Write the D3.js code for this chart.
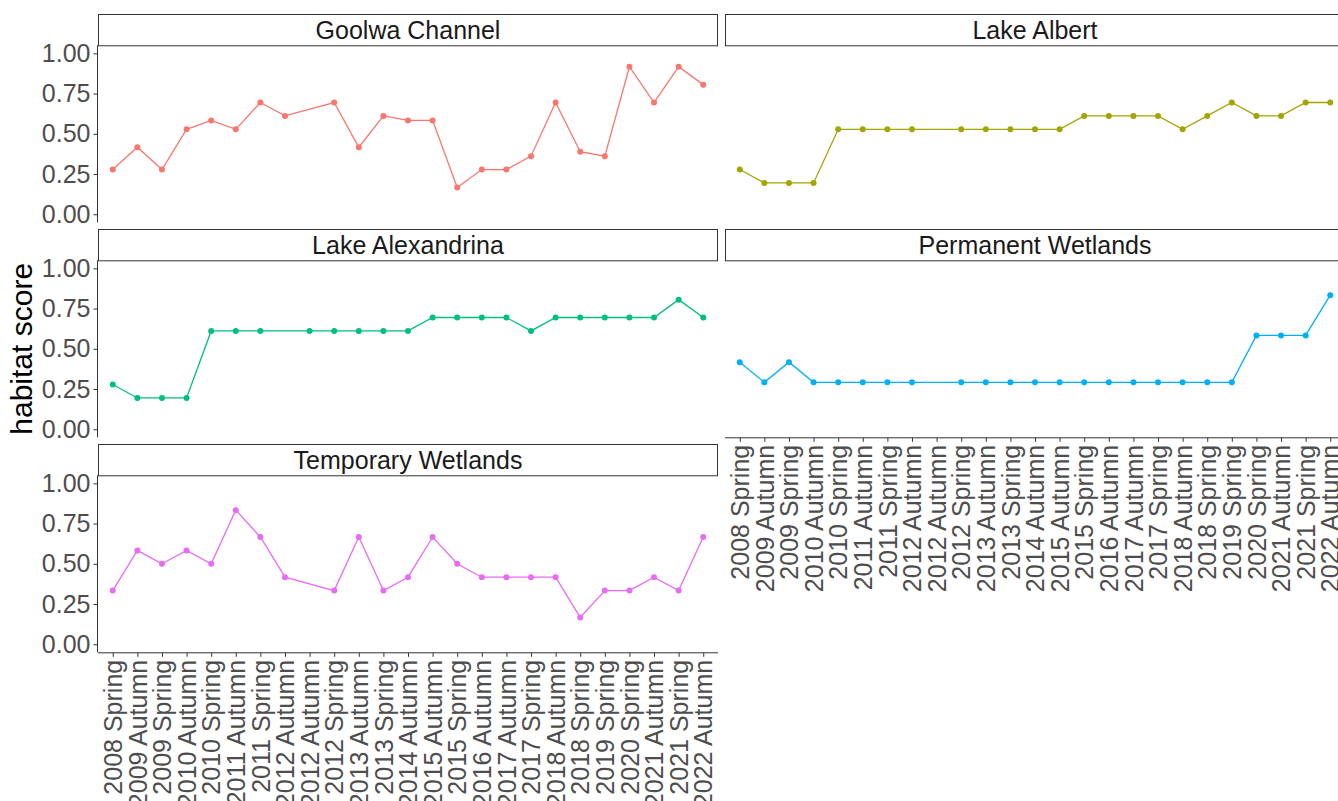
<!DOCTYPE html>
<html>
<head>
<meta charset="utf-8">
<script src="https://cdn.jsdelivr.net/npm/d3@7"></script>
<style>
  body { margin: 0; background: #fff; }
  text { font-family: "Liberation Sans", Arial, sans-serif; }
</style>
</head>
<body>
<div id="main"></div>
<script>
// survey periods (the second "2012 Autumn" is a separate level in the source)
var periods = ["2008 Spring", "2009 Autumn", "2009 Spring", "2010 Autumn", "2010 Spring",
  "2011 Autumn", "2011 Spring", "2012 Autumn", "2012 Autumn", "2012 Spring",
  "2013 Autumn", "2013 Spring", "2014 Autumn", "2015 Autumn", "2015 Spring",
  "2016 Autumn", "2017 Autumn", "2017 Spring", "2018 Autumn", "2018 Spring",
  "2019 Spring", "2020 Spring", "2021 Autumn", "2021 Spring", "2022 Autumn"];

var sites = ["Goolwa Channel", "Lake Albert", "Lake Alexandrina", "Permanent Wetlands", "Temporary Wetlands"];
var siteColors = ["#F8766D", "#A3A500", "#00BF7D", "#00B0F6", "#E76BF3"];

// habitat scores, null = not surveyed
var goolwa = [0.2778, 0.4167, 0.2778, 0.5278, 0.5833, 0.5278, 0.6944, 0.6111, null, 0.6944,
  0.4167, 0.6111, 0.5833, 0.5833, 0.1667, 0.2778, 0.2778, 0.3611, 0.6944, 0.3889,
  0.3611, 0.9167, 0.6944, 0.9167, 0.8056];
var lakeAlbert = [0.2778, 0.1944, 0.1944, 0.1944, 0.5278, 0.5278, 0.5278, 0.5278, null, 0.5278,
  0.5278, 0.5278, 0.5278, 0.5278, 0.6111, 0.6111, 0.6111, 0.6111, 0.5278, 0.6111,
  0.6944, 0.6111, 0.6111, 0.6944, 0.6944];
var lakeAlexandrina = [0.2778, 0.1944, 0.1944, 0.1944, 0.6111, 0.6111, 0.6111, null, 0.6111, 0.6111,
  0.6111, 0.6111, 0.6111, 0.6944, 0.6944, 0.6944, 0.6944, 0.6111, 0.6944, 0.6944,
  0.6944, 0.6944, 0.6944, 0.8056, 0.6944];
var permanent = [0.4167, 0.2917, 0.4167, 0.2917, 0.2917, 0.2917, 0.2917, 0.2917, null, 0.2917,
  0.2917, 0.2917, 0.2917, 0.2917, 0.2917, 0.2917, 0.2917, 0.2917, 0.2917, 0.2917,
  0.2917, 0.5833, 0.5833, 0.5833, 0.8333];
var temporary = [0.3333, 0.5833, 0.5, 0.5833, 0.5, 0.8333, 0.6667, 0.4167, null, 0.3333,
  0.6667, 0.3333, 0.4167, 0.6667, 0.5, 0.4167, 0.4167, 0.4167, 0.4167, 0.1667,
  0.3333, 0.3333, 0.4167, 0.3333, 0.6667];

var yTicks = [0, 0.25, 0.5, 0.75, 1];

var siteValues = [goolwa, lakeAlbert, lakeAlexandrina, permanent, temporary];

var width = 1338, height = 801;
var panelW = 620, panelH = 177, stripH = 31.3, rowStep = 215;
var colX = [98, 725], topY = 14;

var svg = d3.select("#main").append("svg")
    .attr("width", width)
    .attr("height", height);

var x = d3.scalePoint()
    .domain(d3.range(periods.length))
    .range([0, panelW])
    .padding(0.6);

var y = d3.scaleLinear()
    .domain([-0.05, 1.05])
    .range([panelH, 0]);

var line = d3.line()
    .x(function(d){ return x(d.i); })
    .y(function(d){ return y(d.v); });

sites.forEach(function(site, k){
  var col = k % 2, row = Math.floor(k / 2);
  var left = colX[col], stripTop = topY + row * rowStep;
  var top = stripTop + stripH;

  // strip
  var strip = svg.append("g").attr("transform", "translate(" + left + "," + stripTop + ")");
  strip.append("rect")
      .attr("x", 0.5).attr("y", 0.5)
      .attr("width", panelW - 1).attr("height", stripH)
      .attr("fill", "#fff")
      .attr("stroke", "#333")
      .attr("stroke-width", 1);
  strip.append("text")
      .attr("x", panelW / 2)
      .attr("y", stripH / 2 + 1)
      .attr("dy", "0.35em")
      .attr("text-anchor", "middle")
      .attr("font-size", 25)
      .attr("fill", "#1a1a1a")
      .text(site);

  var g = svg.append("g").attr("transform", "translate(" + left + "," + top + ")");

  // y axis only on the left column
  if (col === 0) {
    var ya = g.append("g")
        .attr("transform", "translate(-0.5,0)")
        .call(d3.axisLeft(y).tickValues(yTicks).tickFormat(d3.format(".2f")).tickSize(4).tickPadding(3));
    ya.select(".domain").attr("stroke", "#333").attr("d", "M0,0V" + panelH);
    ya.selectAll(".tick line").attr("stroke", "#333");
    ya.selectAll(".tick text")
        .attr("font-size", 25)
        .attr("fill", "#4d4d4d")
        .attr("font-family", "Liberation Sans, Arial, sans-serif");
  }

  // x axis on panels with nothing below them
  if (k >= sites.length - 2) {
    var xa = g.append("g")
        .attr("transform", "translate(0," + (panelH + 0.5) + ")")
        .call(d3.axisBottom(x).tickFormat(function(i){ return periods[i]; }).tickSize(4).tickSizeOuter(0));
    xa.select(".domain").attr("stroke", "#333").attr("d", "M0,0H" + panelW);
    xa.selectAll(".tick line").attr("stroke", "#333");
    xa.selectAll(".tick text")
        .attr("font-size", 25)
        .attr("fill", "#4d4d4d")
        .attr("font-family", "Liberation Sans, Arial, sans-serif")
        .attr("text-anchor", "end")
        .attr("transform", "rotate(-90)")
        .attr("x", -7)
        .attr("y", 0)
        .attr("dy", "0.35em");
  }

  var pts = siteValues[k]
      .map(function(v, i){ return {i: i, v: v}; })
      .filter(function(d){ return d.v !== null; });

  g.append("path")
      .datum(pts)
      .attr("fill", "none")
      .attr("stroke", siteColors[k])
      .attr("stroke-width", 1.3)
      .attr("d", line);

  g.selectAll("circle")
      .data(pts)
      .enter().append("circle")
        .attr("cx", function(d){ return x(d.i); })
        .attr("cy", function(d){ return y(d.v); })
        .attr("r", 3)
        .attr("fill", siteColors[k]);
});

svg.append("text")
    .attr("transform", "translate(32," + (topY + stripH + (2 * rowStep + panelH) / 2) + ") rotate(-90)")
    .attr("text-anchor", "middle")
    .attr("font-size", 30)
    .attr("fill", "#000")
    .text("habitat score");
</script>
</body>
</html>
